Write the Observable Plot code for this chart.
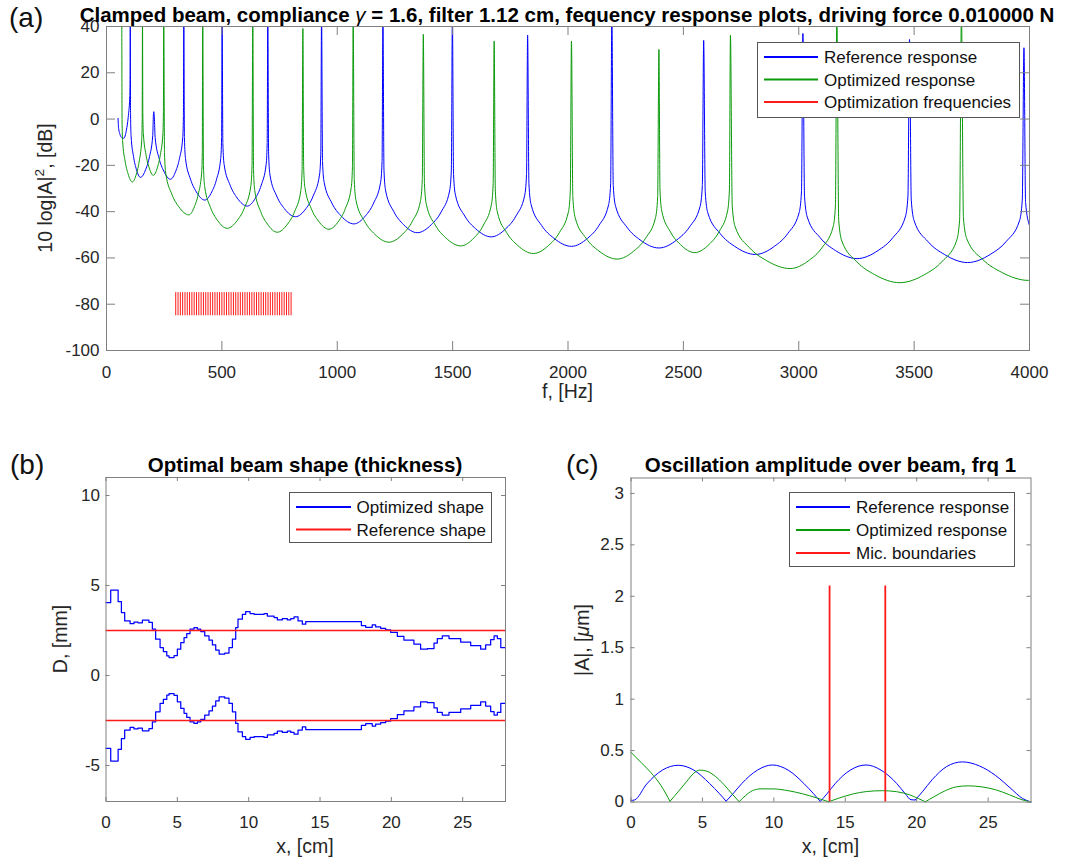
<!DOCTYPE html>
<html>
<head>
<meta charset="utf-8">
<script src="https://cdn.jsdelivr.net/npm/d3@7"></script>
<script src="https://cdn.jsdelivr.net/npm/@observablehq/plot@0.6"></script>
<style>
  body { margin: 0; background: #fff; }
  #page { position: relative; width: 1065px; height: 865px; overflow: hidden; background: #fff; }
  #page > svg { position: absolute; }
</style>
</head>
<body>
<div id="page"></div>
<script>
// ---------------- DATA ----------------
// (a) frequency response: [frequency Hz, level dB]
const refResponse = [[50,0.3],[52,-3.5],[58,-6.5],[66,-8],[75,-8.3],
[86.2,-4.8],[94,0.7],[100.8,9.7],[102.2,18.7],[103,45],
[104.3,1.8],[106.5,-7.2],[117.1,-16.2],[129.4,-21.7],[147,-25.2],
[170.2,-21.7],[186.4,-16.2],[200.4,-7.2],[203.3,1.8],[205,3.2],
[207.2,1],[210.8,-8],[228,-17],[248.2,-22.5],[277,-26],
[300.2,-22.5],[316.4,-17],[330.4,-8],[333.3,1],[335,45],
[337.7,-8],[342.3,-17],[364.1,-26],[389.6,-31.5],[426,-35],
[456,-31.5],[477,-26],[495,-17],[498.8,-8],[501,45],
[504.3,-10.6],[509.7,-19.6],[535.9,-28.6],[566.4,-34.1],[610,-37.6],
[645.6,-34.1],[670.5,-28.6],[691.9,-19.6],[696.3,-10.6],[699,45],
[702.6,-15.2],[708.6,-24.2],[737.4,-33.2],[771,-38.7],[819,-42.2],
[864.2,-38.7],[895.8,-33.2],[923,-24.2],[928.6,-15.2],[932,45],
[936.2,-18.3],[943.2,-27.3],[976.8,-36.3],[1016,-41.8],[1072,-45.3],
[1122.4,-41.8],[1157.7,-36.3],[1187.9,-27.3],[1194.2,-18.3],[1198,45],
[1202.5,-22.1],[1209.9,-31.1],[1245.7,-40.1],[1287.4,-45.6],[1347,-49.1],
[1407.8,-45.6],[1450.4,-40.1],[1486.8,-31.1],[1494.4,-22.1],[1499,45],
[1504,-23.9],[1512.4,-32.9],[1552.8,-41.9],[1599.8,-47.4],[1667,-50.9],
[1730.2,-47.4],[1774.4,-41.9],[1812.4,-32.9],[1820.3,-23.9],[1825,36.3],
[1830.7,-28],[1840.2,-37],[1885.8,-46],[1939,-51.5],[2015,-55],
[2085,-51.5],[2134,-46],[2176,-37],[2184.8,-28],[2190,45],
[2196.1,-28.7],[2206.3,-37.7],[2255.3,-46.7],[2312.4,-52.2],[2394,-55.7],
[2471.6,-52.2],[2525.9,-46.7],[2572.5,-37.7],[2582.2,-28.7],[2588,34],
[2594.7,-31.5],[2605.9,-40.5],[2659.7,-49.5],[2722.4,-55],[2812,-58.5],
[2894.4,-55],[2952.1,-49.5],[3001.5,-40.5],[3011.8,-31.5],[3018,37],
[3025,-33.3],[3036.8,-42.3],[3093.2,-51.3],[3159,-56.8],[3253,-60.3],
[3343.8,-56.8],[3407.4,-51.3],[3461.8,-42.3],[3473.2,-33.3],[3480,34.4],
[3487.6,-35],[3500.2,-44],[3560.6,-53],[3631.2,-58.5],[3732,-62],
[3829.6,-58.5],[3897.9,-53],[3956.5,-44],[3968.7,-35],[3976,30.8],
[3983,-36],[4000,-46]];

const optResponse = [[50,41],[60,42],[66,45],
[67.4,-0.2],[69.7,-9.2],[80.7,-18.2],[93.6,-23.7],[112,-27.2],
[129.6,-23.7],[141.9,-18.2],[152.5,-9.2],[154.7,-0.2],[156,45],
[157.4,2.7],[159.8,-6.3],[171,-15.3],[184.2,-20.8],[203,-24.3],
[221,-20.8],[233.6,-15.3],[244.4,-6.3],[246.7,2.7],[248,45],
[251.3,-14.4],[256.7,-23.4],[282.9,-32.4],[313.4,-37.9],[357,-41.4],
[381,-37.9],[397.8,-32.4],[412.2,-23.4],[415.2,-14.4],[417,45],
[420.2,-20.2],[425.5,-29.2],[450.9,-38.2],[480.6,-43.7],[523,-47.2],
[567.4,-43.7],[598.5,-38.2],[625.1,-29.2],[630.7,-20.2],[634,45],
[637.2,-21.9],[642.5,-30.9],[667.9,-39.9],[697.6,-45.4],[740,-48.9],
[784.4,-45.4],[815.5,-39.9],[842.1,-30.9],[847.7,-21.9],[851,39.1],
[854.4,-20.6],[860,-29.6],[887.2,-38.6],[918.8,-44.1],[964,-47.6],
[1006,-44.1],[1035.4,-38.6],[1060.6,-29.6],[1065.9,-20.6],[1069,45],
[1073.7,-26.2],[1081.4,-35.2],[1118.6,-44.2],[1162,-49.7],[1224,-53.2],
[1283.6,-49.7],[1325.3,-44.2],[1361.1,-35.2],[1368.5,-26.2],[1373,36.7],
[1377.9,-27.8],[1386,-36.8],[1424.8,-45.8],[1470.2,-51.3],[1535,-54.8],
[1593,-51.3],[1633.6,-45.8],[1668.4,-36.8],[1675.7,-27.8],[1680,33.7],
[1685.1,-31.1],[1693.6,-40.1],[1734.4,-49.1],[1782,-54.6],[1850,-58.1],
[1916,-54.6],[1962.2,-49.1],[2001.8,-40.1],[2010,-31.1],[2015,33.7],
[2020.9,-33.5],[2030.8,-42.5],[2078.4,-51.5],[2133.8,-57],[2213,-60.5],
[2285.4,-57],[2336.1,-51.5],[2379.5,-42.5],[2388.6,-33.5],[2394,30.1],
[2398.7,-30.7],[2406.4,-39.7],[2443.6,-48.7],[2487,-54.2],[2549,-57.7],
[2611,-54.2],[2654.4,-48.7],[2691.6,-39.7],[2699.4,-30.7],[2704,36.3],
[2711.8,-37.6],[2724.7,-46.6],[2786.9,-55.6],[2859.4,-61.1],[2963,-64.6],
[3043.8,-61.1],[3100.4,-55.6],[3148.8,-46.6],[3158.9,-37.6],[3165,45],
[3173.2,-43.7],[3186.8,-52.7],[3252.4,-61.7],[3328.8,-67.2],[3438,-70.7],
[3545.2,-67.2],[3619.6,-61.7],[3683.6,-52.7],[3697,-43.7],[3705,45],
[3713.7,-42.7],[3728.2,-51.7],[3797.8,-60.7],[3879,-66.2],[3995,-69.7],[4000,-69.7]];

const optFreqs = [300,310,320,330,340,350,360,370,380,390,400,410,420,430,440,450,460,470,480,490,
  500,510,520,530,540,550,560,570,580,590,600,610,620,630,640,650,660,670,680,690,
  700,710,720,730,740,750,760,770,780,790,800];
const optBand = [-85, -75];
const freqTicks = [0,500,1000,1500,2000,2500,3000,3500,4000];
const dbTicks = [-100,-80,-60,-40,-20,0,20,40];

// (b) beam half-thickness profile (stairs): [x cm, D mm]
const beamShape = [[0,4.05],[0.33,4.75],[0.85,4.1],[1.08,3.5],[1.31,3.03],[1.69,2.88],[1.96,2.97],[2.24,2.93],
  [2.55,3.07],[3.01,2.95],[3.25,2.57],[3.48,2.02],[3.79,1.55],[4.02,1.33],[4.26,1.09],[4.42,1.0],[4.77,1.1],
  [5.0,1.46],[5.24,1.83],[5.47,2.1],[5.66,2.33],[5.89,2.57],[6.17,2.66],[6.4,2.57],[6.64,2.44],[6.92,2.2],
  [7.22,1.96],[7.46,1.7],[7.69,1.41],[7.93,1.19],[8.32,1.25],[8.62,1.55],[8.86,2.02],[9.09,2.66],[9.25,3.13],
  [9.56,3.4],[9.79,3.55],[10.1,3.44],[10.38,3.4],[11.08,3.44],[11.31,3.3],[11.78,3.22],[12.01,3.09],[12.36,3.16],
  [12.71,3.09],[12.95,3.16],[13.18,3.26],[13.46,3.03],[13.76,2.85],[14.0,3.0],[17.9,2.77],[18.2,2.68],[18.66,2.81],
  [18.9,2.7],[19.25,2.62],[19.6,2.53],[19.95,2.4],[20.42,2.18],[20.88,1.96],[21.58,1.74],[22.05,1.46],[22.52,1.5],
  [22.99,1.8],[23.22,2.05],[23.57,2.2],[24.04,2.05],[24.86,1.85],[25.56,1.66],[26.26,1.46],[26.61,1.7],[26.96,2.0],
  [27.2,2.2],[27.43,2.05],[27.67,1.55],[28.0,1.55]];
const refHalfThickness = 2.5;
const beamXTicks = [0,5,10,15,20,25];
const beamYTicks = [-5,0,5,10];

// (c) oscillation amplitude: [x cm, |A| um, arc id]
const refAmplitude = [[0,0.015,1],[0.25,0.02,1],[1.1,0.175,1],[2.2,0.31,1],[3.3,0.357,1],[4.4,0.31,1],[5.5,0.18,1],[6.2,0.08,1],[6.66,0.008,1],
  [6.66,0.008,2],[7.2,0.09,2],[7.76,0.18,2],[8.85,0.31,2],[9.9,0.36,2],[11.0,0.31,2],[12.1,0.18,2],[12.75,0.085,2],[13.25,0.005,2],
  [13.25,0.005,3],[13.75,0.085,3],[14.3,0.18,3],[15.35,0.31,3],[16.45,0.36,3],[17.5,0.31,3],[18.6,0.18,3],[19.2,0.08,3],[19.6,0.022,3],[19.9,0.02,3],
  [19.9,0.02,4],[20.4,0.1,4],[21.1,0.22,4],[22.1,0.345,4],[23.2,0.39,4],[24.4,0.35,4],[25.5,0.26,4],[26.6,0.13,4],[27.4,0.035,4],[28,0,4]];
const optAmplitude = [[0,0.483,1],[0.7,0.385,1],[1.4,0.285,1],[2.1,0.16,1],[2.73,0.007,1],
  [2.73,0.007,2],[3.3,0.1,2],[3.9,0.2,2],[4.4,0.28,2],[4.8,0.31,2],[5.3,0.3,2],[5.9,0.25,2],[6.5,0.17,2],[7.1,0.075,2],[7.57,0.003,2],
  [7.57,0.003,3],[8.0,0.06,3],[8.5,0.11,3],[9.1,0.128,3],[10.0,0.127,3],[11.0,0.11,3],[12.0,0.08,3],[13.0,0.04,3],[13.83,0.002,3],
  [13.83,0.002,4],[14.5,0.035,4],[15.5,0.077,4],[16.5,0.102,4],[17.6,0.11,4],[18.6,0.1,4],[19.5,0.07,4],[20.1,0.035,4],[20.6,0.002,4],
  [20.6,0.002,5],[21.2,0.05,5],[22.0,0.11,5],[22.8,0.148,5],[23.6,0.157,5],[24.5,0.148,5],[25.5,0.12,5],[26.5,0.07,5],[27.3,0.025,5],[28,0,5]];
const micBounds = [13.9, 17.8];
const micTop = 2.1;
const ampYTicks = [0,0.5,1,1.5,2,2.5,3];

// ---------------- STYLE ----------------
const FONT = "'Liberation Sans', Arial, Helvetica, sans-serif";
const BLUE = "#0000ff", GREEN = "#0a9a0a", RED = "#ff1a1a";
const AXC = "#808080", TXT = "#262626";
const page = document.getElementById("page");

function panel({left, top, width, height, frame, xDomain, yDomain, xTicks, yTicks, tickLen, xPad, yPad, marks}) {
  const innerW = frame.right - frame.left, innerH = frame.bottom - frame.top;
  const svg = Plot.plot({
    width, height,
    marginLeft: frame.left - left, marginRight: left + width - frame.right,
    marginTop: frame.top - top, marginBottom: top + height - frame.bottom,
    x: {domain: xDomain, axis: null}, y: {domain: yDomain, axis: null},
    style: {background: "transparent", fontFamily: FONT, fontSize: "17px", color: TXT, overflow: "visible"},
    marks: [
      ...marks,
      Plot.ruleX(xTicks, {x: d => d, stroke: AXC, insetTop: innerH - tickLen}),
      Plot.ruleX(xTicks, {x: d => d, stroke: AXC, insetBottom: innerH - tickLen}),
      Plot.ruleY(yTicks, {y: d => d, stroke: AXC, insetRight: innerW - tickLen}),
      Plot.ruleY(yTicks, {y: d => d, stroke: AXC, insetLeft: innerW - tickLen}),
      Plot.frame({stroke: AXC}),
      Plot.text(xTicks, {x: d => d, text: d => String(d), frameAnchor: "bottom", lineAnchor: "top", dy: xPad, fill: TXT, fontSize: 17}),
      Plot.text(yTicks, {y: d => d, text: d => String(d), frameAnchor: "left", textAnchor: "end", lineAnchor: "middle", dx: -yPad, fill: TXT, fontSize: 17})
    ]
  });
  svg.style.left = left + "px";
  svg.style.top = top + "px";
  page.appendChild(svg);
}

// (a)
panel({
  left: 0, top: 0, width: 1065, height: 410,
  frame: {left: 106, right: 1029, top: 26, bottom: 350},
  xDomain: [0, 4000], yDomain: [-100, 40], xTicks: freqTicks, yTicks: dbTicks,
  tickLen: 9, xPad: 15, yPad: 7,
  marks: [
    Plot.line(refResponse, {x: d => d[0], y: d => d[1], stroke: BLUE, strokeWidth: 1, curve: "monotone-x", clip: true}),
    Plot.line(optResponse, {x: d => d[0], y: d => d[1], stroke: GREEN, strokeWidth: 1, curve: "monotone-x", clip: true}),
    Plot.ruleX(optFreqs, {x: d => d, y1: optBand[0], y2: optBand[1], stroke: RED, strokeWidth: 1})
  ]
});

// (b)
panel({
  left: 0, top: 430, width: 540, height: 435,
  frame: {left: 105.5, right: 505, top: 477, bottom: 801},
  xDomain: [0, 28], yDomain: [-7, 11], xTicks: beamXTicks, yTicks: beamYTicks,
  tickLen: 4, xPad: 14, yPad: 6,
  marks: [
    Plot.line(beamShape, {x: d => d[0], y: d => d[1], stroke: BLUE, strokeWidth: 1.25, curve: "step-after"}),
    Plot.line(beamShape, {x: d => d[0], y: d => -d[1], stroke: BLUE, strokeWidth: 1.25, curve: "step-after"}),
    Plot.ruleY([refHalfThickness, -refHalfThickness], {y: d => d, stroke: RED, strokeWidth: 1.4})
  ]
});

// (c)
panel({
  left: 540, top: 430, width: 525, height: 435,
  frame: {left: 630.5, right: 1030.5, top: 477.5, bottom: 801.5},
  xDomain: [0, 28], yDomain: [0, 3.15], xTicks: beamXTicks, yTicks: ampYTicks,
  tickLen: 4, xPad: 14, yPad: 7,
  marks: [
    Plot.line(refAmplitude, {x: d => d[0], y: d => d[1], z: d => d[2], stroke: BLUE, strokeWidth: 1, curve: "monotone-x"}),
    Plot.line(optAmplitude, {x: d => d[0], y: d => d[1], z: d => d[2], stroke: GREEN, strokeWidth: 1, curve: "monotone-x"}),
    Plot.ruleX(micBounds, {x: d => d, y1: 0, y2: micTop, stroke: RED, strokeWidth: 1.8})
  ]
});

// ---------------- TEXT OVERLAY ----------------
const ov = d3.select(page).append("svg")
  .attr("width", 1065).attr("height", 865)
  .style("left", "0px").style("top", "0px")
  .attr("font-family", FONT);

function label(x, y, parts, {size = 17, weight = "normal", anchor = "start", rotate = 0, fill = "#000"} = {}) {
  const t = ov.append("text").attr("x", x).attr("y", y)
    .attr("font-size", size).attr("font-weight", weight)
    .attr("text-anchor", anchor).attr("fill", fill);
  if (rotate) t.attr("transform", `rotate(${rotate},${x},${y})`);
  let shifted = 0;
  for (const p of parts) {
    const part = typeof p === "string" ? {t: p} : p;
    const s = t.append("tspan").text(part.t);
    if (part.italic) s.attr("font-style", "italic").attr("font-weight", "normal");
    if (part.sup) { s.attr("font-size", size * 0.7).attr("dy", -size * 0.42); shifted = size * 0.42; }
    else if (shifted) { s.attr("dy", shifted); shifted = 0; }
  }
  return t;
}

// panel letters
label(9, 27, ["(a)"], {size: 28, fill: "#111"});
label(10, 474, ["(b)"], {size: 28, fill: "#111"});
label(566, 474, ["(c)"], {size: 28, fill: "#111"});

// titles
label(567, 21.5, ["Clamped beam, compliance ", {t: "γ", italic: true}, " = 1.6, filter 1.12 cm, fequency response plots, driving force 0.010000 N"], {size: 20.5, weight: "bold", anchor: "middle"});
label(305, 472, ["Optimal beam shape (thickness)"], {size: 20.5, weight: "bold", anchor: "middle"});
label(830.5, 472, ["Oscillation amplitude over beam, frq 1"], {size: 20.5, weight: "bold", anchor: "middle"});

// axis labels
label(567.5, 398, ["f, [Hz]"], {size: 19.5, anchor: "middle", fill: TXT});
label(305, 853, ["x, [cm]"], {size: 19.5, anchor: "middle", fill: TXT});
label(830.5, 853, ["x, [cm]"], {size: 19.5, anchor: "middle", fill: TXT});
label(52, 188, ["10 log|A|", {t: "2", sup: true}, ", [dB]"], {size: 19.5, anchor: "middle", rotate: -90, fill: TXT});
label(67, 639, ["D, [mm]"], {size: 19.5, anchor: "middle", rotate: -90, fill: TXT});
label(589, 640, ["|A|, [", {t: "μ", italic: true}, "m]"], {size: 19.5, anchor: "middle", rotate: -90, fill: TXT});

// legends
function legend(box, lineX, textX, rows) {
  ov.append("rect").attr("x", box[0]).attr("y", box[1]).attr("width", box[2] - box[0]).attr("height", box[3] - box[1])
    .attr("fill", "#fff").attr("stroke", "#555").attr("stroke-width", 1);
  for (const r of rows) {
    ov.append("line").attr("x1", lineX[0]).attr("x2", lineX[1]).attr("y1", r.y).attr("y2", r.y)
      .attr("stroke", r.color).attr("stroke-width", 1.8);
    label(textX, r.y + 6, [r.text], {size: 17, fill: "#111"});
  }
}
legend([757.5, 42.5, 1019.5, 117.5], [764, 818], 824, [
  {y: 57, color: BLUE, text: "Reference response"},
  {y: 79.5, color: GREEN, text: "Optimized response"},
  {y: 102, color: RED, text: "Optimization frequencies"}
]);
legend([289.5, 492.5, 491.5, 542.5], [296, 351], 356.5, [
  {y: 507, color: BLUE, text: "Optimized shape"},
  {y: 529.5, color: RED, text: "Reference shape"}
]);
legend([789.5, 492.5, 1014.5, 566.5], [796, 850], 856, [
  {y: 507, color: BLUE, text: "Reference response"},
  {y: 530, color: GREEN, text: "Optimized response"},
  {y: 553, color: RED, text: "Mic. boundaries"}
]);
</script>
</body>
</html>
